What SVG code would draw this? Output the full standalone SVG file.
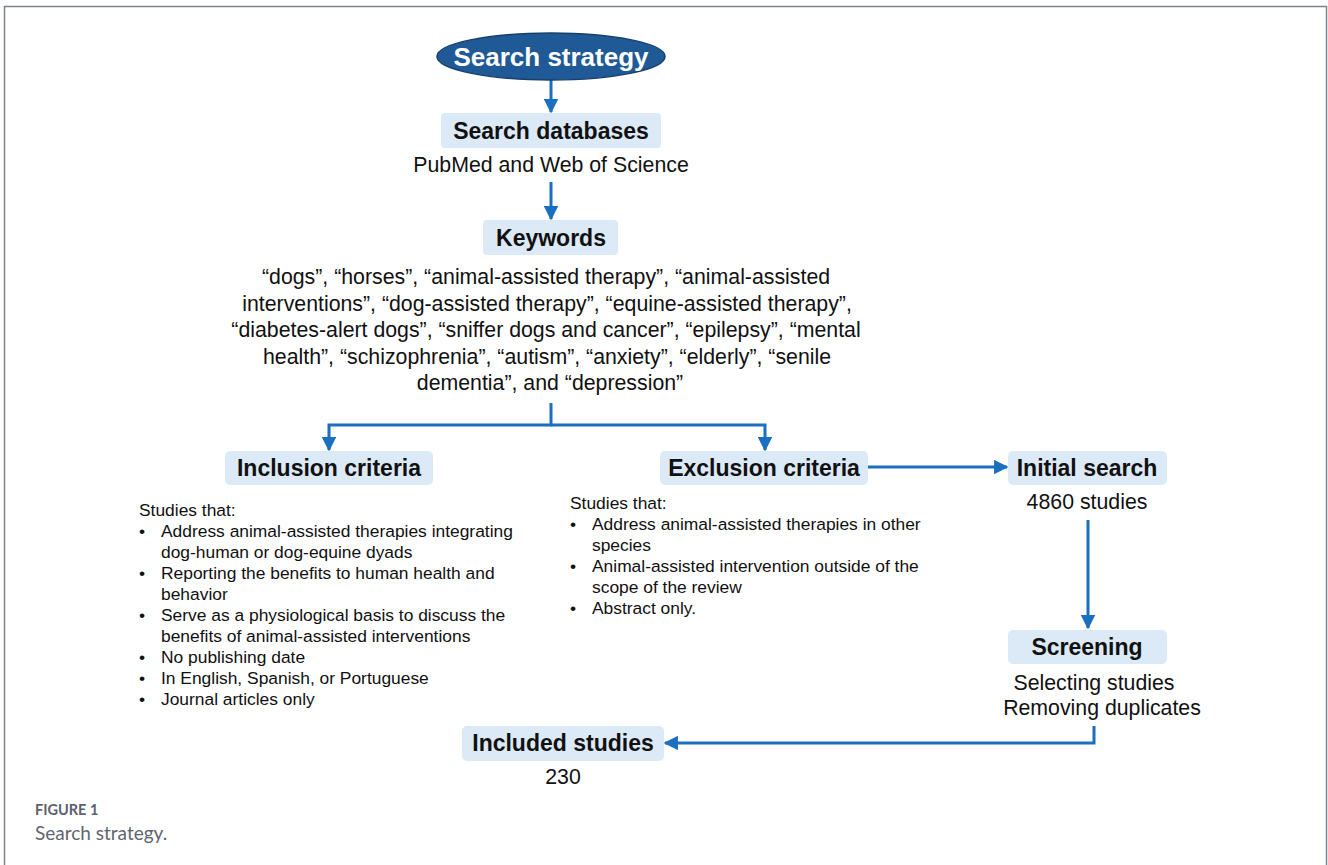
<svg xmlns="http://www.w3.org/2000/svg" width="1328" height="865" viewBox="0 0 1328 865">
<defs>
<style>
.box{fill:#dce9f6;}
.hd{font-family:"Liberation Sans",Arial,sans-serif;font-weight:bold;font-size:23px;fill:#111;text-anchor:middle;}
.tx{font-family:"Liberation Sans",Arial,sans-serif;font-size:21.3px;fill:#111;text-anchor:middle;}
.sm{font-family:"Liberation Sans",Arial,sans-serif;font-size:17.4px;fill:#111;}
.ln{fill:none;stroke:#1a6fc1;stroke-width:3;}
.cap1{font-family:Lato,"Open Sans",sans-serif;font-weight:bold;font-size:14.5px;fill:#5b6270;}
.cap2{font-family:Lato,"Open Sans",sans-serif;font-size:19px;fill:#5f6670;}
</style>
<marker id="ah" viewBox="0 0 10 10" refX="9" refY="5" markerWidth="4.8" markerHeight="4.8" orient="auto" markerUnits="strokeWidth">
<path d="M0,0 L10,5 L0,10 Z" fill="#1a6fc1"/>
</marker>
</defs>
<rect width="1328" height="865" fill="#fff"/>
<path d="M4.5,865 V6.5 H1326.5 V865" fill="none" stroke="#7d828c" stroke-width="1.5"/>

<g id="connectors">
<line class="ln" x1="551" y1="80" x2="551" y2="112" marker-end="url(#ah)"/>
<line class="ln" x1="551" y1="182" x2="551" y2="219" marker-end="url(#ah)"/>
<path class="ln" d="M551,403 V425 H329 V450" marker-end="url(#ah)"/>
<path class="ln" d="M551,425 H765 V450" marker-end="url(#ah)"/>
<line class="ln" x1="868" y1="467" x2="1007" y2="467" marker-end="url(#ah)"/>
<line class="ln" x1="1088" y1="520" x2="1088" y2="628" marker-end="url(#ah)"/>
<path class="ln" d="M1094,726 V743 H665" marker-end="url(#ah)"/>
</g>

<g id="search-strategy">
<ellipse cx="551" cy="56.5" rx="114" ry="23.5" fill="#1f5a97" stroke="#173f6b" stroke-width="1.5"/>
<text x="551" y="66" class="hd" style="fill:#fff;font-size:26px">Search strategy</text>
</g>

<g id="search-databases">
<rect class="box" x="441" y="113" width="220" height="35" rx="4"/>
<text x="551" y="139" class="hd">Search databases</text>
<text x="551" y="172" class="tx">PubMed and Web of Science</text>
</g>

<g id="keywords">
<rect class="box" x="483" y="220" width="135" height="35" rx="4"/>
<text x="551" y="246" class="hd">Keywords</text>
<text class="tx">
<tspan x="549" y="284">“dogs”, “horses”, “animal-assisted therapy”, “animal-assisted</tspan>
<tspan x="550" y="311">interventions”, “dog-assisted therapy”, “equine-assisted therapy”,</tspan>
<tspan x="549" y="337">“diabetes-alert dogs”, “sniffer dogs and cancer”, “epilepsy”, “mental</tspan>
<tspan x="550" y="364">health”, “schizophrenia”, “autism”, “anxiety”, “elderly”, “senile</tspan>
<tspan x="550" y="390">dementia”, and “depression”</tspan>
</text>
</g>

<g id="inclusion-criteria">
<rect class="box" x="225" y="451" width="208" height="34" rx="5"/>
<text x="329" y="476" class="hd">Inclusion criteria</text>
<text class="sm">
<tspan x="139" y="516">Studies that:</tspan>
<tspan x="139" y="537">•</tspan><tspan x="161" y="537">Address animal-assisted therapies integrating</tspan>
<tspan x="161" y="558">dog-human or dog-equine dyads</tspan>
<tspan x="139" y="579">•</tspan><tspan x="161" y="579">Reporting the benefits to human health and</tspan>
<tspan x="161" y="600">behavior</tspan>
<tspan x="139" y="621">•</tspan><tspan x="161" y="621">Serve as a physiological basis to discuss the</tspan>
<tspan x="161" y="642">benefits of animal-assisted interventions</tspan>
<tspan x="139" y="663">•</tspan><tspan x="161" y="663">No publishing date</tspan>
<tspan x="139" y="684">•</tspan><tspan x="161" y="684">In English, Spanish, or Portuguese</tspan>
<tspan x="139" y="705">•</tspan><tspan x="161" y="705">Journal articles only</tspan>
</text>
</g>

<g id="exclusion-criteria">
<rect class="box" x="660" y="451" width="208" height="34" rx="5"/>
<text x="764" y="476" class="hd">Exclusion criteria</text>
<text class="sm">
<tspan x="570" y="509">Studies that:</tspan>
<tspan x="570" y="530">•</tspan><tspan x="592" y="530">Address animal-assisted therapies in other</tspan>
<tspan x="592" y="551">species</tspan>
<tspan x="570" y="572">•</tspan><tspan x="592" y="572">Animal-assisted intervention outside of the</tspan>
<tspan x="592" y="593">scope of the review</tspan>
<tspan x="570" y="614">•</tspan><tspan x="592" y="614">Abstract only.</tspan>
</text>
</g>

<g id="initial-search">
<rect class="box" x="1008" y="451" width="159" height="34" rx="5"/>
<text x="1087" y="476" class="hd">Initial search</text>
<text x="1087" y="509" class="tx">4860 studies</text>
</g>

<g id="screening">
<rect class="box" x="1008" y="630" width="159" height="34" rx="5"/>
<text x="1087" y="655" class="hd">Screening</text>
<text x="1094" y="690" class="tx">Selecting studies</text>
<text x="1102" y="715" class="tx">Removing duplicates</text>
</g>

<g id="included-studies">
<rect class="box" x="462" y="726" width="202" height="35" rx="5"/>
<text x="563" y="751" class="hd">Included studies</text>
<text x="563" y="784" class="tx">230</text>
</g>

<g id="caption">
<text x="35" y="815" class="cap1">FIGURE 1</text>
<text x="35" y="840" class="cap2">Search strategy.</text>
</g>
</svg>
